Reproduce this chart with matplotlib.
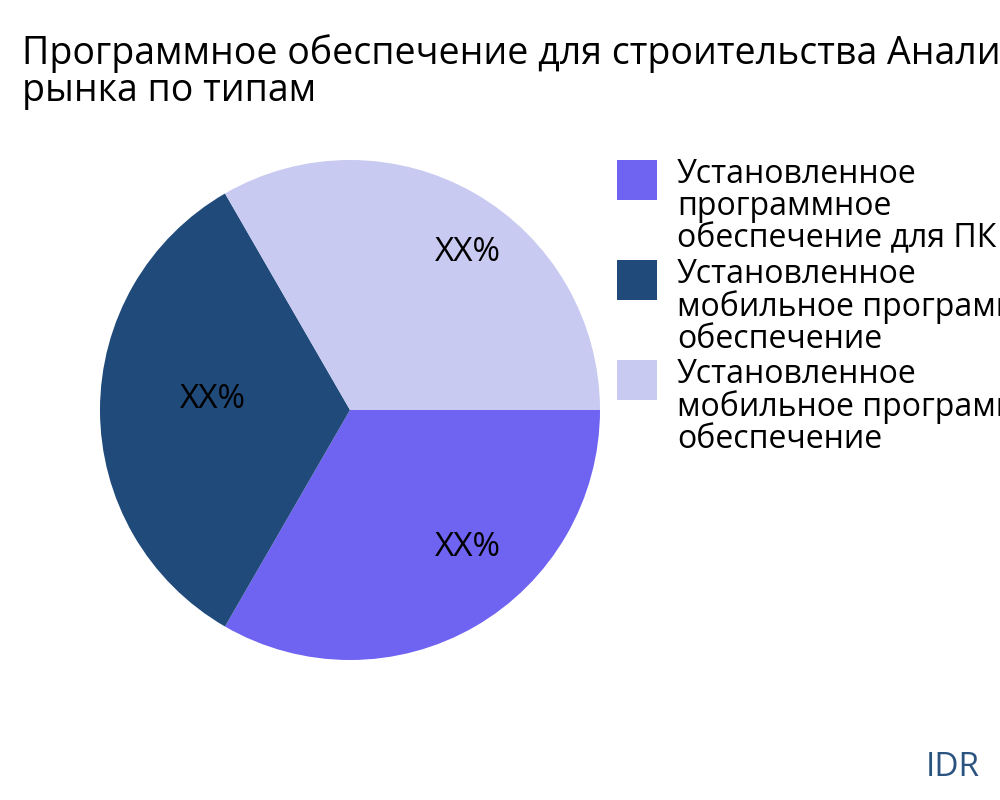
import matplotlib.pyplot as plt
from matplotlib.patches import Rectangle

plt.rcParams['font.family'] = ['Open Sans', 'Noto Sans', 'DejaVu Sans']

# slice data
categories = [
    "Установленное\nпрограммное\nобеспечение для ПК",
    "Установленное\nмобильное программное\nобеспечение",
    "Установленное\nмобильное программное\nобеспечение",
]
shares = [1, 1, 1]
slice_labels = ["XX%", "XX%", "XX%"]
colors = ["#6F63F2", "#1F4A7A", "#C8CAF1"]

fig = plt.figure(figsize=(10, 8), dpi=100)
ax = fig.add_axes([0.1, 0.175, 0.5, 0.625])

wedges, texts = ax.pie(shares, colors=colors, startangle=0, counterclock=False,
                       labels=slice_labels, labeldistance=0.68,
                       textprops=dict(fontsize=24, ha='center', va='center'))
# nudge the inside labels a bit right/up, like the original
for t in texts:
    x, y = t.get_position()
    t.set_position((x + 0.13, y + 0.04))
ax.set_xlim(-1, 1)
ax.set_ylim(-1, 1)
ax.set_aspect('equal')

fig.text(0.022, 0.91, "Программное обеспечение для строительства Анализ\nрынка по типам",
         fontsize=27, ha='left', va='center', linespacing=0.95)

# legend drawn by hand: square at the top of each wrapped entry
for i, (c, lab) in enumerate(zip(colors, categories)):
    top = 0.80 - i * 0.125
    fig.patches.append(Rectangle((0.617, top - 0.05), 0.04, 0.05, facecolor=c,
                                 edgecolor='none', transform=fig.transFigure))
    fig.text(0.677, top + 0.003, lab, fontsize=23, ha='left', va='top', linespacing=0.98)

fig.text(0.98, 0.04, "IDR", fontsize=24, color="#2B5380", ha='right', va='center')

fig.savefig("out.png", dpi=100)
